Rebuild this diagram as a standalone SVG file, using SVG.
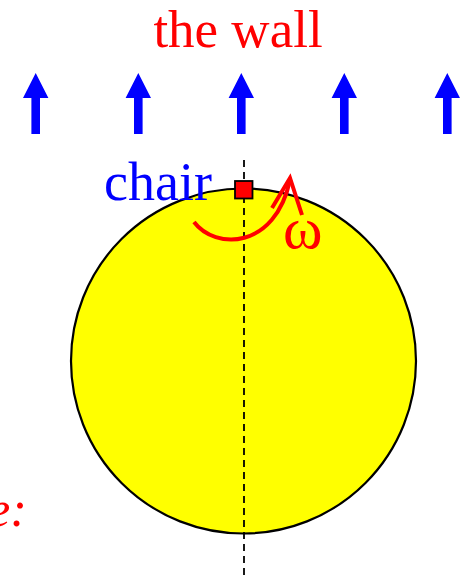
<svg xmlns="http://www.w3.org/2000/svg" width="466" height="575" viewBox="0 0 466 575">
<defs>
<style>
.lbl{font-family:"Liberation Serif","Times New Roman",serif;}
.up{fill:#0000ff;}
</style>
<polygon id="uparrow" class="up" points="0,73 12.7,98 4.3,98 4.3,134 -4.3,134 -4.3,98 -12.7,98"/>
</defs>
<rect width="466" height="575" fill="#ffffff"/>
<g id="wall">
<text class="lbl" x="238" y="46.5" font-size="53" fill="#ff0000" text-anchor="middle">the wall</text>
</g>
<g id="wind-arrows">
<use href="#uparrow" x="35.7"/>
<use href="#uparrow" x="138.3"/>
<use href="#uparrow" x="241.3"/>
<use href="#uparrow" x="344.3"/>
<use href="#uparrow" x="447.3"/>
</g>
<g id="disk">
<circle cx="243.5" cy="361" r="172.5" fill="#ffff00" stroke="#000000" stroke-width="2.2"/>
</g>
<g id="connectors">
<line x1="244" y1="160" x2="244" y2="575" stroke="#000000" stroke-width="1.8" stroke-dasharray="7,5"/>
<path d="M194,222 C215,250 275,250 290,180" fill="none" stroke="#ff0000" stroke-width="4"/>
<polyline points="272,208 290,178 302,215" fill="none" stroke="#ff0000" stroke-width="4"/>
</g>
<g id="chair">
<rect x="235" y="181" width="17.5" height="17.5" fill="#ff0000" stroke="#000000" stroke-width="1.8"/>
<text class="lbl" x="104" y="200" font-size="54" fill="#0000ff">chair</text>
</g>
<g id="omega">
<text class="lbl" x="283" y="248" font-size="60" fill="#ff0000">ω</text>
</g>
<g id="frame-label">
<text class="lbl" x="-12" y="526" font-size="50" font-style="italic" fill="#ff0000">e:</text>
</g>
</svg>
